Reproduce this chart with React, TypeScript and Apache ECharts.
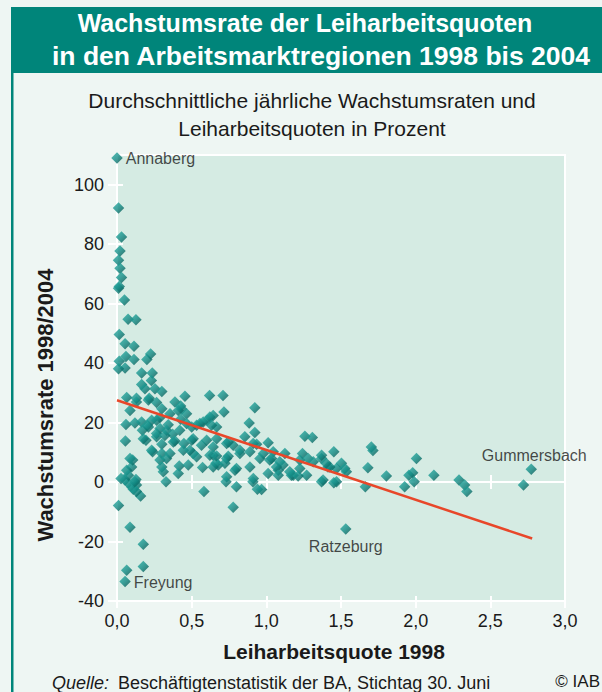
import React, { useEffect, useRef } from "react";
import * as echarts from "echarts";

// Scatter points: Leiharbeitsquote 1998 (x) and Wachstumsrate 1998/2004 (y)
const xs: number[] = [
  0.01, 0.03, 0.02, 0.01, 0.02, 0.03, 0.015, 0.01, 0.05, 0.074, 0.127, 0.015, 0.054, 0.114, 0.06, 0.114, 0.015, 0.2, 0.225, 0.054, 0.01, 0.165, 0.236, 0.23, 0.165, 0.187, 0.254, 0.3, 0.065, 0.13, 0.216, 0.455, 0.62, 0.71,
  0.13, 0.265, 0.388, 0.426, 0.3, 0.087, 0.433, 0.21,
  0.06, 0.12, 0.165, 0.203, 0.232, 0.288, 0.355, 0.41, 0.466, 0.265, 0.288, 0.343, 0.426, 0.466, 0.533, 0.577, 0.622, 0.667, 0.21,
  0.17, 0.265, 0.332, 0.372, 0.42, 0.5, 0.555, 0.604, 0.644, 0.716, 0.923, 0.885, 0.633,
  0.056, 0.194, 0.232, 0.3, 0.388, 0.448, 0.5, 0.6, 0.644, 0.734, 0.778, 0.856, 0.912, 0.176, 0.265, 0.32, 0.377, 0.51, 0.566, 0.923, 1.012, 1.258, 1.308, 0.935, 0.667, 0.745, 0.823, 0.89, 0.98, 1.046, 1.124, 1.242, 1.452, 1.37,
  0.3, 0.355, 0.444, 0.51, 0.644, 0.734, 0.823, 0.238, 0.488, 0.533, 0.622, 0.662, 0.667, 0.745, 0.957, 1.035, 1.09, 1.224, 1.413, 1.47, 1.37, 1.28, 1.314, 1.224, 1.112, 1.023, 1.08,
  0.288, 0.332, 0.3, 0.417, 0.477, 0.573, 0.678, 0.087, 0.098, 0.065, 0.31, 0.41, 0.105, 0.644, 0.723, 0.8, 0.89, 1.068, 1.157, 1.18, 1.27, 1.38, 0.734, 0.79, 0.913, 1.012, 1.08, 1.168, 1.213,
  0.027, 0.054, 0.127, 0.076, 0.098, 0.109, 0.13, 0.328, 0.582, 0.73, 0.8, 0.778, 0.91, 0.94, 0.968, 0.158, 0.01, 0.087, 0.176, 0.176, 0.065, 0.076, 0.12, 0.13,
  1.452, 1.47, 1.37, 1.503, 1.425, 1.4, 1.525, 1.536, 1.703, 1.714, 1.68, 1.804, 1.663, 2.005, 1.955, 1.98, 1.99, 1.926, 2.122, 2.29, 2.328, 2.343, 2.722,
];
const ys: number[] = [
  92.2, 82.4, 77.7, 74.6, 71.9, 68.8, 65.8, 65.2, 61.2, 54.8, 54.6, 49.6, 46.5, 45.7, 42.2, 41.2, 40.6, 41.2, 43.1, 38.4, 38.1, 36.7, 36.7, 34.2, 32.8, 31.4, 31.4, 30.5, 28.4, 28.2, 28.2, 28.9, 29.1, 29.1,
  26.9, 26.8, 26.9, 25.6, 24.7, 24.1, 24.6, 27.6,
  19.4, 19.9, 20.2, 19.1, 20.8, 21.7, 23, 24.1, 23, 20.8, 18, 19.3, 21.1, 19.7, 19.1, 20.2, 21.9, 18.5, 18.5,
  17.4, 16.3, 17.4, 16.1, 17.4, 18.5, 19.7, 20.8, 22.4, 23.6, 25, 19.9, 19.1,
  13.8, 14.1, 10.7, 12.7, 13.8, 13, 14.1, 14.1, 11.8, 13, 12.4, 15.2, 13, 14.6, 15.2, 15.7, 13.5, 14.6, 12.4, 16.7, 13.2, 15.4, 15, 12.7, 14.6, 13.5, 10.7, 10.2, 9.6, 10.2, 9.6, 9.6, 10.2, 7.9,
  9.6, 9.6, 10.7, 9.6, 9, 7.9, 9.6, 10.2, 10.7, 8.5, 9, 6.3, 8.8, 8.7, 7.9, 7.9, 6.8, 7.4, 5.1, 4.6, 9, 7.9, 6.8, 4.6, 5.7, 7.4, 4,
  7.4, 7.9, 5.1, 5.4, 5.7, 4.9, 5.7, 7.9, 5.1, 4, 3.5, 2.9, 7.4, 5.1, 6.3, 4.6, 5.1, 5.1, 3.5, 2.3, 2.3, 0.7, 1.8, 4, 1.2, 2.9, 2.3, 2.3, 2,
  1.2, 0.7, 0.9, -0.4, -1.6, -2.4, -1, 0.1, -3.2, 0.1, -1.6, -8.5, 0.1, -2.4, -2.5, -4.7, -7.9, -15.2, -20.9, -28.4, -29.7, 2.3, 0.1, -3.2,
  -0.2, 0.1, 0.1, 6.3, 5.1, 6.3, 4.6, 3.5, 11.8, 10.6, 4.8, 2, -1.6, 7.9, 2.3, 3.1, 0.1, -1.6, 2.3, 0.7, -1, -3.2, -1,
];

// Named regions
const namedRegions = ["Annaberg", "Freyung", "Ratzeburg", "Gummersbach"];
const namedX = [0.0, 0.054, 1.532, 2.774];
const namedY = [109, -33.4, -15.8, 4.3];

// Regression line
const trendX = [0, 2.78];
const trendY = [27.5, -19];

const yTicks = [-40, -20, 0, 20, 40, 60, 80, 100];

const FONT = "Liberation Sans, Arial, Helvetica, sans-serif";

export default function App() {
  const ref = useRef<HTMLDivElement>(null);
  useEffect(() => {
    if (!ref.current) return;
    const chart = echarts.init(ref.current, null, { renderer: "svg" });

    const diamondColor = new echarts.graphic.LinearGradient(0, 0, 1, 1, [
      { offset: 0, color: "#2fb3aa" },
      { offset: 0.5, color: "#128a84" },
      { offset: 1, color: "#064b47" },
    ]);

    const points = xs.map((x, i) => [x, ys[i]]);
    const labelPos: any[] = [
      { position: "right", distance: 3, offset: [0, 1] },
      { position: "right", distance: 3, offset: [0, 1] },
      { position: "bottom", distance: 4, offset: [0, 0] },
      { position: "top", distance: 0, offset: [3, 0] },
    ];
    const named = namedRegions.map((n, i) => ({
      value: [namedX[i], namedY[i]],
      name: n,
      label: { show: true, formatter: n, ...labelPos[i] },
    }));

    const white = "#ffffff";
    const baseX = { type: "value", min: 0, max: 3, interval: 0.5, gridIndex: 0 };

    const txt = (
      text: string,
      x: number,
      y: number,
      font: string,
      align = "center",
      extra: any = {}
    ) => ({
      type: "text",
      x,
      y,
      ...extra,
      style: { text, fill: "#1a1a1a", font, align, verticalAlign: "middle", ...(extra.style || {}) },
    });

    chart.setOption({
      animation: false,
      textStyle: { fontFamily: FONT },
      grid: {
        left: 117,
        right: 37,
        top: 155,
        bottom: 91,
        show: true,
        backgroundColor: "#d5ebe3",
        borderColor: white,
        borderWidth: 2,
      },
      xAxis: [
        {
          ...baseX,
          position: "bottom",
          axisLine: { show: true, onZero: false, lineStyle: { color: white, width: 2 } },
          axisTick: { show: true, inside: false, length: 7, lineStyle: { color: white, width: 2 } },
          axisLabel: {
            show: true,
            margin: 11,
            fontSize: 18,
            color: "#1a1a1a",
            fontFamily: FONT,
            formatter: (v: number) => v.toFixed(1).replace(".", ","),
          },
          splitLine: { show: false },
        },
        {
          ...baseX,
          position: "bottom",
          axisLine: { show: false, onZero: false },
          axisTick: { show: true, inside: true, length: 5, lineStyle: { color: white, width: 2 } },
          axisLabel: { show: false },
          splitLine: { show: false },
        },
        {
          ...baseX,
          position: "bottom",
          axisLine: { show: true, onZero: true, lineStyle: { color: white, width: 2 } },
          axisTick: { show: true, inside: true, length: 7, lineStyle: { color: white, width: 2 } },
          axisLabel: { show: false },
          splitLine: { show: false },
        },
        {
          ...baseX,
          position: "bottom",
          axisLine: { show: false, onZero: true },
          axisTick: { show: true, inside: false, length: 7, lineStyle: { color: white, width: 2 } },
          axisLabel: { show: false },
          splitLine: { show: false },
        },
      ],
      yAxis: [
        {
          type: "value",
          min: -40,
          max: 110,
          position: "left",
          axisLine: { show: true, onZero: false, lineStyle: { color: white, width: 2 } },
          axisTick: {
            show: true,
            inside: false,
            length: 9,
            customValues: yTicks,
            lineStyle: { color: white, width: 2 },
          },
          axisLabel: {
            show: true,
            margin: 13,
            fontSize: 18,
            color: "#1a1a1a",
            fontFamily: FONT,
            customValues: yTicks,
          },
          splitLine: { show: false },
        },
        {
          type: "value",
          min: -40,
          max: 110,
          position: "left",
          axisLine: { show: false, onZero: false },
          axisTick: {
            show: true,
            inside: true,
            length: 6,
            customValues: yTicks,
            lineStyle: { color: white, width: 2 },
          },
          axisLabel: { show: false },
          splitLine: { show: false },
        },
      ],
      series: [
        {
          type: "scatter",
          xAxisIndex: 0,
          yAxisIndex: 0,
          symbol: "diamond",
          symbolSize: 11.5,
          itemStyle: { color: diamondColor },
          data: points,
          z: 3,
        },
        {
          type: "scatter",
          xAxisIndex: 0,
          yAxisIndex: 0,
          symbol: "diamond",
          symbolSize: 11.5,
          itemStyle: { color: diamondColor },
          label: { fontSize: 16, color: "#1a1a1a", fontFamily: FONT },
          data: named,
          z: 3,
        },
        {
          type: "line",
          xAxisIndex: 0,
          yAxisIndex: 0,
          data: trendX.map((x, i) => [x, trendY[i]]),
          symbol: "none",
          lineStyle: { color: "#e8472a", width: 2.5 },
          z: 5,
        },
      ],
      graphic: [
        {
          type: "rect",
          shape: { x: 13, y: 7, width: 589, height: 66 },
          style: { fill: "#00857a" },
          silent: true,
        },
        {
          type: "rect",
          shape: { x: 11, y: 7, width: 2.5, height: 685 },
          style: { fill: "#00857a" },
          silent: true,
        },
        txt("Wachstumsrate der Leiharbeitsquoten", 305, 23, `bold 25px ${FONT}`, "center", {
          style: { fill: "#ffffff" },
        }),
        txt("in den Arbeitsmarktregionen 1998 bis 2004", 321, 56, `bold 26.5px ${FONT}`, "center", {
          style: { fill: "#ffffff" },
        }),
        txt("Durchschnittliche jährliche Wachstumsraten und", 312, 100, `21px ${FONT}`),
        txt("Leiharbeitsquoten in Prozent", 312, 128, `21px ${FONT}`),
        txt("Wachstumsrate 1998/2004", 45, 405, `bold 22px ${FONT}`, "center", {
          rotation: Math.PI / 2,
        }),
        txt("Leiharbeitsquote 1998", 334, 651, `bold 21px ${FONT}`),
        txt("Quelle:", 52, 683, `italic 18px ${FONT}`, "left"),
        txt("Beschäftigtenstatistik der BA, Stichtag 30. Juni", 118, 683, `18px ${FONT}`, "left"),
        txt("© IAB", 600, 681, `17px ${FONT}`, "right"),
      ],
    });
    return () => chart.dispose();
  }, []);

  return (
    <div
      style={{
        position: "absolute",
        left: 0,
        top: 0,
        width: 602,
        height: 692,
        background: "#eef6f3",
      }}
    >
      <div ref={ref} style={{ width: 602, height: 692 }} />
    </div>
  );
}
